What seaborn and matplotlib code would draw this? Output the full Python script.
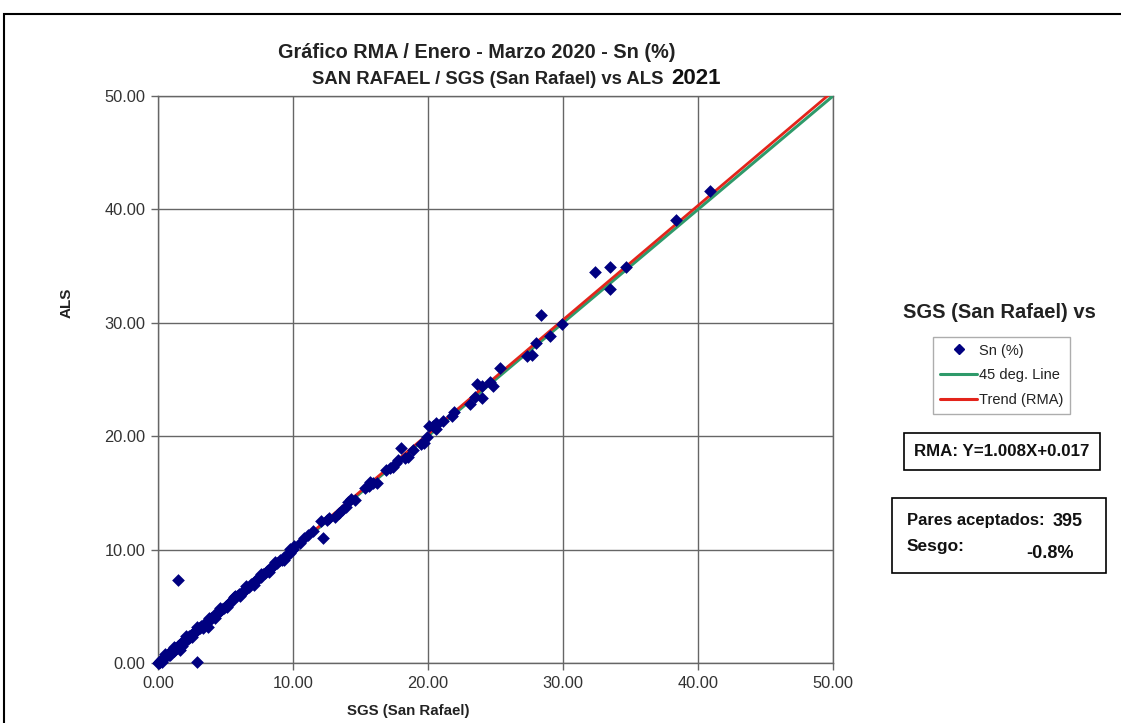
import matplotlib
matplotlib.use("Agg")
import matplotlib.pyplot as plt
import seaborn as sns
import pandas as pd
from matplotlib.lines import Line2D
from matplotlib.patches import Rectangle

# ---------------- data ----------------
title_1 = "Gráfico RMA / Enero - Marzo 2020 - Sn (%)"
title_2 = "SAN RAFAEL / SGS (San Rafael) vs ALS"
title_year = "2021"
x_label = "SGS (San Rafael)"
y_label = "ALS"
legend_title = "SGS (San Rafael) vs"
series_names = ["Sn (%)", "45 deg. Line", "Trend (RMA)"]
rma_slope = 1.008
rma_intercept = 0.017
pairs_accepted = 395
bias_text = "-0.8%"
ticks = [0, 10, 20, 30, 40, 50]

# (SGS, ALS) pairs, 0-10 %
pts_low = [
    (0.02, 0.03), (0.05, 0.04), (0.08, 0.10), (0.10, 0.08), (0.12, 0.14), (0.15, 0.13),
    (0.18, 0.20), (0.20, 0.19), (0.22, 0.25), (0.25, 0.22), (0.28, 0.30), (0.30, 0.33),
    (0.33, 0.31), (0.35, 0.38), (0.38, 0.36), (0.40, 0.43), (0.43, 0.40), (0.45, 0.48),
    (0.48, 0.46), (0.50, 0.52), (0.55, 0.53), (0.60, 0.63), (0.62, 0.58), (0.65, 0.70),
    (0.70, 0.68), (0.74, 0.80), (0.78, 0.74), (0.80, 0.85), (0.85, 0.82), (0.90, 0.95),
    (0.95, 0.90), (1.00, 1.06), (1.05, 0.98), (1.10, 1.15), (1.15, 1.08), (1.20, 1.22),
    (1.25, 1.30), (1.30, 1.26), (1.38, 1.32), (1.45, 1.50), (1.50, 1.46), (1.58, 1.62),
    (1.62, 1.15), (1.70, 1.76), (1.78, 1.72), (1.85, 1.90), (1.92, 1.86), (2.00, 2.05),
    (2.08, 2.02), (2.15, 2.20), (2.22, 2.15), (2.30, 2.35), (2.38, 2.32), (2.45, 2.50),
    (2.52, 2.46), (2.60, 2.65), (2.70, 2.62), (2.78, 2.85), (2.85, 2.80), (2.95, 2.98),
    (3.05, 3.10), (3.12, 3.05), (3.20, 3.28), (3.30, 3.25), (3.40, 3.38), (3.50, 3.52),
    (3.62, 3.55), (3.70, 3.20), (3.80, 3.78), (3.92, 3.95), (4.05, 4.10), (4.15, 4.12),
    (4.25, 4.30), (4.38, 4.36), (4.50, 4.55), (4.62, 4.60), (4.75, 4.80), (4.88, 4.85),
    (5.00, 5.05), (5.12, 5.10), (5.25, 5.30), (5.40, 5.38), (5.55, 5.60), (5.70, 5.90),
    (5.85, 5.90), (6.00, 6.05), (6.15, 6.12), (6.30, 6.35), (6.45, 6.42), (6.60, 6.65),
    (6.75, 6.72), (6.90, 6.95), (7.05, 7.02), (7.20, 7.25), (7.35, 7.32), (7.50, 7.58),
    (7.65, 7.62), (7.80, 7.85), (7.95, 7.92), (8.10, 8.15), (8.25, 8.22), (8.40, 8.45),
    (8.55, 8.52), (8.70, 8.75), (8.85, 8.82), (9.00, 9.05), (9.15, 9.12), (9.30, 9.35),
    (9.45, 9.42), (9.60, 9.65), (9.75, 9.72), (9.90, 9.95), (10.00, 10.08),
    (0.30, 0.12), (0.55, 0.75), (0.90, 0.70), (1.20, 1.45), (1.75, 1.50), (2.10, 2.40),
    (2.55, 2.30), (2.90, 3.15), (3.35, 3.10), (3.75, 4.00), (4.20, 4.00), (4.60, 4.85),
    (5.10, 4.90), (5.60, 5.85), (6.10, 5.90), (6.55, 6.80), (7.10, 6.90), (7.60, 7.85),
    (8.20, 8.00), (8.70, 8.95), (9.30, 9.10), (9.80, 10.05),
]
# 10-20 %
pts_mid = [
    (10.1, 10.3), (10.5, 10.6), (10.8, 11.0), (11.1, 11.3), (11.5, 11.6), (12.1, 12.5),
    (12.2, 11.0), (12.5, 12.6), (12.7, 12.8), (13.1, 12.9), (13.4, 13.2), (13.6, 13.5),
    (13.9, 13.8), (14.1, 14.2), (14.3, 14.5), (14.6, 14.4), (15.3, 15.4), (15.6, 15.6),
    (15.7, 16.0), (15.9, 15.9), (16.2, 15.9), (16.9, 17.0), (17.2, 17.2), (17.4, 17.3),
    (17.6, 17.6), (17.8, 17.9), (18.0, 19.0), (18.3, 18.1), (18.5, 18.2), (18.9, 18.8),
    (19.5, 19.3), (19.7, 19.4), (19.9, 19.9),
]
# 20-42 %
pts_high = [
    (20.1, 20.9), (20.4, 20.9), (20.6, 21.0), (20.6, 20.6), (20.6, 21.2), (21.1, 21.3),
    (21.8, 21.8), (21.9, 22.1), (23.1, 22.8), (23.5, 23.5), (23.6, 24.6), (24.0, 24.4),
    (24.0, 23.4), (24.6, 24.8), (24.8, 24.4), (25.3, 26.0), (27.3, 27.1), (27.7, 27.2),
    (28.0, 28.2), (28.4, 30.7), (29.0, 28.8), (29.9, 29.9), (32.4, 34.5), (33.5, 34.9),
    (33.5, 33.0), (34.7, 34.9), (38.4, 39.1), (40.9, 41.6),
]
# outliers
pts_out = [(1.5, 7.3), (2.9, 0.1)]

all_pts = pts_low + pts_mid + pts_high + pts_out
df = pd.DataFrame(all_pts, columns=["SGS", "ALS"])
line_x = [0, 50]
df_45 = pd.DataFrame({"x": line_x, "y": line_x})
df_rma = pd.DataFrame({"x": line_x, "y": [rma_slope * v + rma_intercept for v in line_x]})

# ---------------- figure ----------------
sns.set_theme(style="white")
plt.rcParams["font.family"] = ["Liberation Sans", "DejaVu Sans"]

W, H = 1121, 723
fig = plt.figure(figsize=(W / 100, H / 100), dpi=100)
ax = fig.add_axes([158 / W, 1 - 663 / H, (833 - 158) / W, (663 - 96) / H])

grid_col = "#666666"
navy = "#000080"
green = "#2e9a6a"
red = "#e3241b"

sns.lineplot(data=df_45, x="x", y="y", ax=ax, color=green, lw=2.2, zorder=3)
sns.lineplot(data=df_rma, x="x", y="y", ax=ax, color=red, lw=2.0, zorder=4)
sns.scatterplot(data=df, x="SGS", y="ALS", ax=ax, marker="D", s=42, color=navy,
                edgecolor=navy, linewidth=0, zorder=5, clip_on=False)

ax.set_xlim(0, 50)
ax.set_ylim(0, 50)
ax.set_xticks(ticks)
ax.set_yticks(ticks)
ax.set_xticklabels([f"{t:.2f}" for t in ticks])
ax.set_yticklabels([f"{t:.2f}" for t in ticks])
ax.grid(True, color=grid_col, lw=1.0)
ax.set_axisbelow(True)
for s in ax.spines.values():
    s.set_color(grid_col)
    s.set_linewidth(1.0)
ax.tick_params(axis="both", direction="out", length=5, width=1, color=grid_col,
               labelsize=11.8, labelcolor="#333333", pad=4, left=True, bottom=True)
ax.set_xlabel("")
ax.set_ylabel("")

# axis labels
fig.text(408 / W, 1 - 711 / H, x_label, ha="center", va="center", fontsize=10.8,
         fontweight="bold", color="#222222")
fig.text(67 / W, 1 - 303 / H, y_label, ha="center", va="center", fontsize=11,
         fontweight="bold", color="#222222", rotation=90)

# titles
fig.text(477 / W, 1 - 52 / H, title_1, ha="center", va="center", fontsize=14.3,
         fontweight="bold", color="#222222")
fig.text(663 / W, 1 - 80 / H, title_2, ha="right", va="center", fontsize=13.3,
         fontweight="bold", color="#222222")
fig.text(671 / W, 1 - 79 / H, title_year, ha="left", va="center", fontsize=16,
         fontweight="bold", color="#111111")

# legend title
fig.text(999 / W, 1 - 312 / H, legend_title, ha="center", va="center", fontsize=14.5,
         fontweight="bold", color="#222222")

handles = [
    Line2D([], [], marker="D", ls="none", color=navy, markersize=5.5),
    Line2D([], [], color=green, lw=2.2),
    Line2D([], [], color=red, lw=2.2),
]
leg = fig.legend(handles, series_names, loc="upper left",
                 bbox_to_anchor=(933 / W, 1 - 337 / H), fontsize=10.5,
                 frameon=True, fancybox=False, edgecolor="#999999",
                 handlelength=2.6, handletextpad=0.1, labelspacing=0.75,
                 borderpad=0.45, borderaxespad=0)
leg.get_frame().set_linewidth(1.0)
for t in leg.get_texts():
    t.set_color("#222222")

# RMA box
fig.patches.append(Rectangle((904 / W, 1 - 470 / H), (1100 - 904) / W, 37 / H,
                             transform=fig.transFigure, fill=False, ec="black", lw=1.2))
fig.text(1002 / W, 1 - 451 / H, f"RMA: Y={rma_slope:.3f}X+{rma_intercept:.3f}",
         ha="center", va="center", fontsize=12.2, fontweight="bold", color="#111111")

# pares box
fig.patches.append(Rectangle((892 / W, 1 - 573 / H), (1106 - 892) / W, 75 / H,
                             transform=fig.transFigure, fill=False, ec="black", lw=1.2))
fig.text(907 / W, 1 - 520 / H, "Pares aceptados:", ha="left", va="center",
         fontsize=12, fontweight="bold", color="#111111")
fig.text(1053 / W, 1 - 522 / H, str(pairs_accepted), ha="left", va="center",
         fontsize=13, fontweight="bold", color="#111111")
fig.text(907 / W, 1 - 546 / H, "Sesgo:", ha="left", va="center",
         fontsize=12.5, fontweight="bold", color="#111111")
fig.text(1074 / W, 1 - 553 / H, bias_text, ha="right", va="center",
         fontsize=13, fontweight="bold", color="#111111")

# outer chart frame
fig.patches.append(Rectangle((4 / W, -0.1), 1.2, 1 - 14 / H + 0.1,
                             transform=fig.transFigure, fill=False, ec="black", lw=1.5))

fig.savefig("out.png", dpi=100)
